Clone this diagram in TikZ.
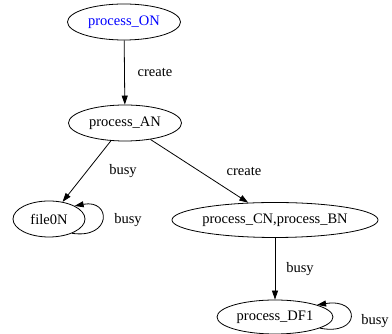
\documentclass[tikz,border=0pt]{standalone}
\usepackage{fontspec}
\setmainfont{Liberation Serif}
\usetikzlibrary{shapes.geometric,arrows.meta}
\begin{document}
\begin{tikzpicture}[x=1pt,y=1pt,
  every node/.style={font=\fontsize{14.5}{16}\selectfont},
  st/.style={draw,ellipse,inner sep=0pt,line width=0.8pt},
  lbl/.style={inner sep=0pt},
  edge/.style={line width=0.8pt,-{Triangle[length=9pt,width=6pt]}}]
\useasboundingbox (0,0) rectangle (392,334);
\node[st,minimum width=113pt,minimum height=36pt,text=blue] (on) at (124,312) {process\_ON};
\node[st,minimum width=113pt,minimum height=36pt] (an) at (125,211) {process\_AN};
\node[st,minimum width=72pt,minimum height=36pt] (file) at (49,115) {file0N};
\node[st,minimum width=206pt,minimum height=35pt] (cn) at (275,114) {process\_CN,process\_BN};
\node[st,minimum width=116pt,minimum height=34pt] (df) at (275,17) {process\_DF1};
\draw[edge] (on) -- (an);
\draw[edge] (an) -- (file);
\draw[edge] (an) -- (cn);
\draw[edge] (cn) -- (df);
\draw[edge] (file.-32) .. controls +(40,-6) and +(37,7) .. (file.27);
\draw[edge] (df.-14) .. controls +(41,-8) and +(44,7) .. (df.16);
\node[lbl] (l1) at (155,262) {create};
\node[lbl] (l2) at (123,163) {busy};
\node[lbl] (l3) at (244,163) {create};
\node[lbl] (l4) at (300,65) {busy};
\node[lbl] (l5) at (128,114) {busy};
\node[lbl] (l6) at (375,13) {busy};
\end{tikzpicture}
\end{document}
